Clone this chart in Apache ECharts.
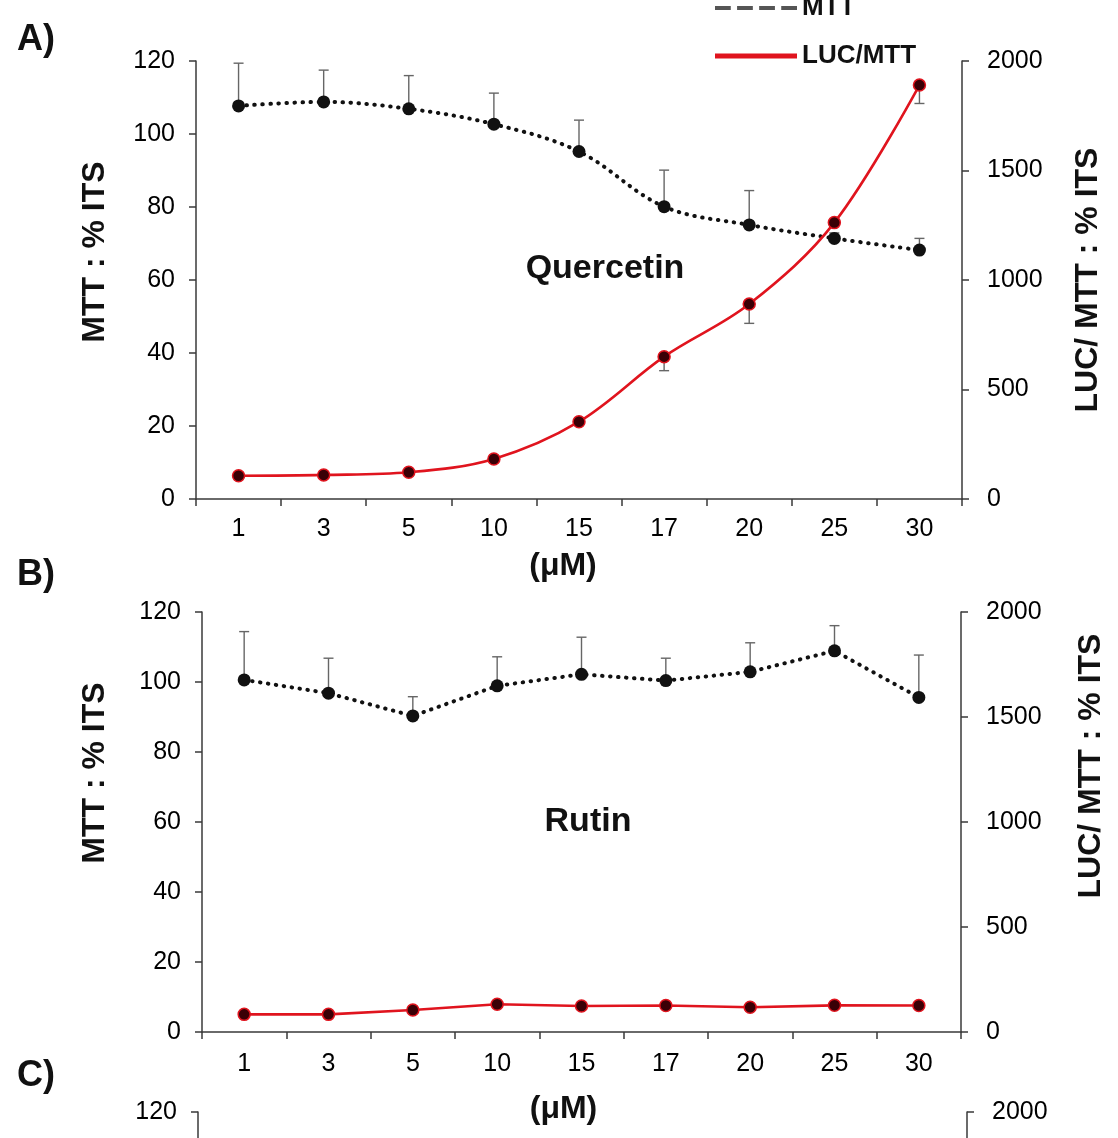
<!DOCTYPE html>
<html>
<head>
<meta charset="utf-8">
<title>MTT / LUC</title>
<script src="https://cdn.jsdelivr.net/npm/echarts@6/dist/echarts.min.js"></script>
<style>
  html, body { margin: 0; padding: 0; background: #fff; }
  #chart { width: 1118px; height: 1138px; }
</style>
</head>
<body>
<div id="chart"></div>
<script>
// doses (µM)
const doses = ['1', '3', '5', '10', '15', '17', '20', '25', '30']

// A) Quercetin
const mttA = [107.7, 108.8, 106.9, 102.7, 95.2, 80.1, 75.1, 71.4, 68.2]
const mttAErr = [11.7, 8.7, 9.1, 8.5, 8.6, 10.0, 9.4, 1.5, 3.2]
const lucA = [106, 110, 122, 183, 353, 650, 890, 1262, 1890]
const lucAErr = [0, 0, 0, 0, 0, 64, 88, 0, 84]

// B) Rutin
const mttB = [100.6, 96.8, 90.3, 98.9, 102.2, 100.4, 102.9, 108.9, 95.6]
const mttBErr = [13.8, 10.0, 5.5, 8.3, 10.6, 6.4, 8.3, 7.2, 12.1]
const lucB = [84, 84, 105, 132, 124, 126, 118, 127, 126]

const FONT = '"Liberation Sans", Arial, Helvetica, sans-serif'
const AXIS = '#3a3a3a'
const RED = '#e0141e'
const TICK_SIZE = 25

// error bar drawn from value towards value + dir*err, cap at the end
function errorBars (dir) {
  return function (params, api) {
    let i = api.value(0)
    let v = api.value(1)
    let e = api.value(2)
    if (!e) return null
    let p0 = api.coord([i, v])
    let p1 = api.coord([i, v + dir * e])
    let st = { stroke: '#666', lineWidth: 1.4 }
    return {
      type: 'group',
      children: [
        { type: 'line', shape: { x1: p0[0], y1: p0[1], x2: p1[0], y2: p1[1] }, style: st },
        { type: 'line', shape: { x1: p1[0] - 5, y1: p1[1], x2: p1[0] + 5, y2: p1[1] }, style: st }
      ]
    }
  }
}

function errData (vals, errs) {
  return vals.map((v, i) => [i, v, errs[i]])
}

function xAxisFor (grid, margin, gap, padRight) {
  return {
    type: 'category',
    gridIndex: grid,
    data: doses,
    boundaryGap: true,
    name: '(μM)',
    nameLocation: 'middle',
    nameGap: gap,
    nameTextStyle: { fontFamily: FONT, fontWeight: 'bold', fontSize: 32, color: '#111', padding: [0, padRight, 0, 0] },
    axisLine: { lineStyle: { color: AXIS, width: 1.5 } },
    axisTick: { show: true, inside: false, length: 7, lineStyle: { color: AXIS, width: 1.5 } },
    axisLabel: { fontFamily: FONT, fontSize: TICK_SIZE, color: '#000', margin: margin }
  }
}

function leftAxis (grid, name, gap, padUp) {
  return {
    type: 'value',
    gridIndex: grid,
    position: 'left',
    min: 0, max: 120, interval: 20,
    name: name,
    nameLocation: 'middle',
    nameRotate: 90,
    nameGap: gap,
    nameTextStyle: { fontFamily: FONT, fontWeight: 'bold', fontSize: 32, color: '#111', padding: [0, 0, 0, padUp * 2] },
    splitLine: { show: false },
    axisLine: { show: true, lineStyle: { color: AXIS, width: 1.5 } },
    axisTick: { show: true, length: 7, lineStyle: { color: AXIS, width: 1.5 } },
    axisLabel: { fontFamily: FONT, fontSize: TICK_SIZE, color: '#000', margin: 21 }
  }
}

function rightAxis (grid, name, gap, padUp) {
  return {
    type: 'value',
    gridIndex: grid,
    position: 'right',
    min: 0, max: 2000, interval: 500,
    name: name,
    nameLocation: 'middle',
    nameRotate: 90,
    nameGap: gap,
    nameTextStyle: { fontFamily: FONT, fontWeight: 'bold', fontSize: 32, color: '#111', padding: [0, 0, 0, padUp * 2] },
    splitLine: { show: false },
    axisLine: { show: true, lineStyle: { color: AXIS, width: 1.5 } },
    axisTick: { show: true, length: 7, lineStyle: { color: AXIS, width: 1.5 } },
    axisLabel: { fontFamily: FONT, fontSize: TICK_SIZE, color: '#000', margin: 25, formatter: v => String(v) }
  }
}

function mttLine (name, data, xi, yi, smooth) {
  return {
    name: name,
    type: 'line',
    xAxisIndex: xi,
    yAxisIndex: yi,
    data: data,
    smooth: smooth,
    symbol: 'circle',
    symbolSize: 13,
    z: 3,
    itemStyle: { color: '#111' },
    lineStyle: { color: '#111', width: 4, type: [0.5, 7.5], cap: 'round' }
  }
}

function lucLine (name, data, xi, yi, smooth) {
  return {
    name: name,
    type: 'line',
    xAxisIndex: xi,
    yAxisIndex: yi,
    data: data,
    smooth: smooth,
    symbol: 'circle',
    symbolSize: 12,
    z: 4,
    itemStyle: { color: '#3a0006', borderColor: RED, borderWidth: 1.5 },
    lineStyle: { color: RED, width: 2.6 }
  }
}

function errSeries (data, xi, yi, dir) {
  return {
    name: 'err',
    type: 'custom',
    xAxisIndex: xi,
    yAxisIndex: yi,
    data: data,
    encode: { x: 0, y: 1 },
    z: 2,
    silent: true,
    renderItem: errorBars(dir)
  }
}

function label (text, x, y, size, align) {
  return {
    type: 'text',
    x: x,
    y: y,
    style: {
      text: text,
      fill: '#111',
      font: 'bold ' + size + 'px ' + FONT,
      align: align,
      verticalAlign: 'middle'
    }
  }
}

let dom = echarts.init(document.getElementById('chart'))
let option = {
  backgroundColor: '#fff',
  animation: false,
  legend: {
    orient: 'vertical',
    left: 710,
    top: -10,
    itemWidth: 82,
    itemHeight: 5,
    itemGap: 22,
    selectedMode: false,
    textStyle: { fontFamily: FONT, fontWeight: 'bold', fontSize: 26, color: '#111' },
    data: [
      { name: 'MTT', icon: 'path://M0 0h15v4H0z M21 0h15v4H21z M42 0h15v4H42z M63 0h15v4H63z', itemStyle: { color: '#555', borderWidth: 0 }, lineStyle: { width: 0 } },
      { name: 'LUC/MTT', icon: 'rect', itemStyle: { color: RED, borderWidth: 0 }, lineStyle: { width: 0 } }
    ]
  },
  grid: [
    { left: 196, top: 61, width: 766, height: 438, outerBoundsMode: 'none' },
    { left: 202, top: 612, width: 759, height: 420, outerBoundsMode: 'none' },
    // C) only its top edge fits on the page
    { left: 198, top: 1112, width: 769, height: 420, outerBoundsMode: 'none' }
  ],
  xAxis: [
    xAxisFor(0, 18, 51, 32),
    xAxisFor(1, 20, 61, 36),
    xAxisFor(2, 20, 61, 36)
  ],
  yAxis: [
    leftAxis(0, 'MTT : % ITS', 85, 28),
    rightAxis(0, 'LUC/ MTT : % ITS', 110, 0),
    leftAxis(1, 'MTT : % ITS', 91, 49),
    rightAxis(1, 'LUC/ MTT : % ITS', 114, 56),
    leftAxis(2, '', 91, 0),
    rightAxis(2, '', 114, 0)
  ],
  series: [
    errSeries(errData(mttA, mttAErr), 0, 0, 1),
    errSeries(errData(lucA, lucAErr), 0, 1, -1),
    mttLine('MTT', mttA, 0, 0, 0.35),
    lucLine('LUC/MTT', lucA, 0, 1, 0.35),
    errSeries(errData(mttB, mttBErr), 1, 2, 1),
    mttLine('MTT', mttB, 1, 2, false),
    lucLine('LUC/MTT', lucB, 1, 3, false)
  ],
  graphic: [
    label('A)', 17, 40, 36, 'left'),
    label('B)', 17, 575, 36, 'left'),
    label('C)', 17, 1076, 36, 'left'),
    label('Quercetin', 605, 269, 34, 'center'),
    label('Rutin', 588, 822, 34, 'center')
  ]
}
dom.setOption(option)
window.addEventListener('resize', () => dom.resize())
</script>
</body>
</html>
